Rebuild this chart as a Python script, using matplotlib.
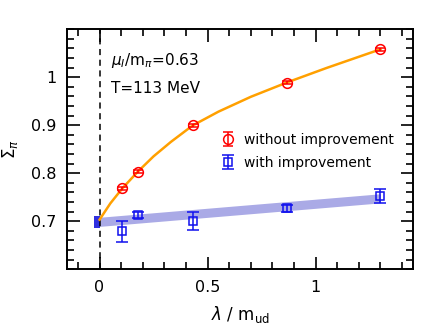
import matplotlib
matplotlib.use("Agg")
import matplotlib.pyplot as plt
from matplotlib.ticker import MultipleLocator

plt.rcParams['font.family'] = ['DejaVu Sans']
plt.rcParams['mathtext.fontset'] = 'dejavusans'

# ---- data ----
lam = [0.105, 0.177, 0.433, 0.868, 1.30]
sigma_raw = [0.768, 0.803, 0.900, 0.988, 1.058]
sigma_raw_err = [0.003, 0.003, 0.003, 0.003, 0.003]
sigma_imp = [0.679, 0.713, 0.701, 0.727, 0.752]
sigma_imp_err = [0.022, 0.007, 0.019, 0.007, 0.015]

# fit curve through the unimproved points
curve_x = [0.0, 0.05, 0.105, 0.177, 0.25, 0.33, 0.43, 0.55, 0.70, 0.868, 1.05, 1.30]
curve_y = [0.703, 0.737, 0.768, 0.803, 0.835, 0.865, 0.899, 0.928, 0.959, 0.989, 1.019, 1.058]

# linear fit band for the improved points
band_x = [0.0, 1.30]
band_lo = [0.689, 0.738]
band_hi = [0.708, 0.757]

# extrapolated value at lambda = 0
extrap_lo, extrap_hi = 0.686, 0.710

fig = plt.figure(figsize=(4.36, 3.31), dpi=100)
ax = fig.add_axes([0.154, 0.187, 0.793, 0.725])

ax.axvline(0, color="black", linestyle=(0, (4, 3)), linewidth=1.1)
ax.fill_between(band_x, band_lo, band_hi, color="#aaaae6", linewidth=0)
ax.bar([-0.0135], [extrap_hi - extrap_lo], bottom=[extrap_lo], width=0.027,
       color="#3030e0", linewidth=0)
ax.plot(curve_x, curve_y, color="#ffa000", linewidth=1.8)

ax.errorbar(lam, sigma_raw, yerr=sigma_raw_err, fmt="o", color="red",
            mfc="none", ms=7, mew=1.1, capsize=3.5, elinewidth=1.1,
            label="without improvement")
ax.errorbar(lam, sigma_imp, yerr=sigma_imp_err, fmt="s", color="#1010ee",
            mfc="none", ms=6, mew=1.1, capsize=4, elinewidth=1.1,
            label="with improvement")

ax.text(0.055, 1.035, r"$\mu_I$/m$_\pi$=0.63", fontsize=11, va="center")
ax.text(0.055, 0.977, "T=113 MeV", fontsize=11, va="center")

ax.set_xlim(-0.15, 1.45)
ax.set_ylim(0.6, 1.1)
ax.xaxis.set_minor_locator(MultipleLocator(0.1))
ax.yaxis.set_minor_locator(MultipleLocator(0.02))
ax.set_xticks([0, 0.5, 1])
ax.set_xticklabels(["0", "0.5", "1"])
ax.set_yticks([0.7, 0.8, 0.9, 1.0])
ax.set_yticklabels(["0.7", "0.8", "0.9", "1"])
ax.tick_params(which="both", direction="in", top=True, right=True,
               width=1.2, labelsize=11.5, pad=8)
ax.tick_params(which="major", length=9)
ax.tick_params(which="minor", length=5)
for s in ax.spines.values():
    s.set_linewidth(1.4)

ax.set_xlabel(r"$\lambda$ / m$_{\rm ud}$", fontsize=12, labelpad=6)
ax.set_ylabel(r"$\Sigma_\pi$", fontsize=12)
ax.yaxis.set_label_coords(-0.135, 0.5)

ax.legend(loc="center left", bbox_to_anchor=(0.43, 0.49), frameon=False,
          fontsize=10, handlelength=1.0, handletextpad=0.6, labelspacing=0.65,
          borderaxespad=0)

fig.savefig("out.png", dpi=100)
